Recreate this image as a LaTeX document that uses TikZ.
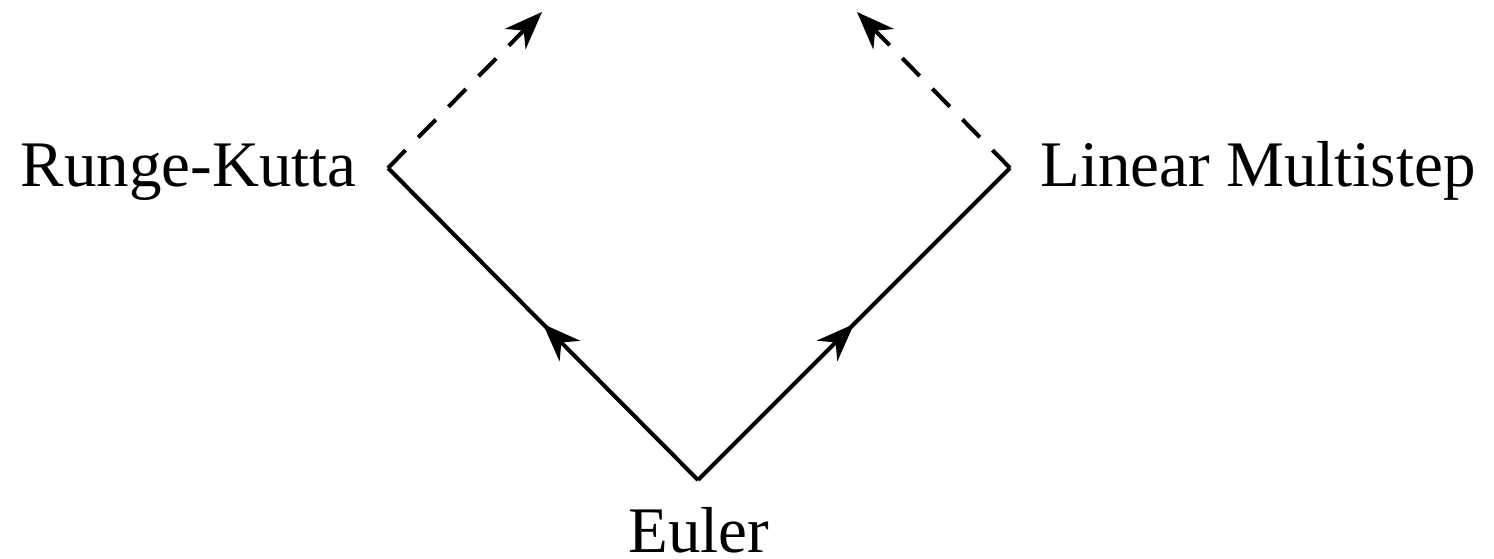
\documentclass[tikz,border=0pt]{standalone}
\usepackage{fontspec}
\setmainfont{Liberation Serif}
\usetikzlibrary{arrows.meta,decorations.markings}
\begin{document}
\begin{tikzpicture}[x=0.02cm,y=-0.02cm,
  lbl/.style={inner sep=0pt,font=\fontsize{37}{44}\selectfont},
  tip/.tip={Stealth[length=0.76cm,width=0.58cm,inset=0.24cm]},
  edge/.style={line width=2.3pt},
  midarrow/.style={postaction={decorate},decoration={markings,
    mark=at position 0.5 with {\arrow{tip}}}},
  future/.style={line width=2.3pt,dash pattern=on 0.5cm off 0.36cm,-tip}]
  \useasboundingbox (0,0) rectangle (1494,558);
  % corners of the path
  \coordinate (e) at (698,480);
  \coordinate (rk) at (388,168);
  \coordinate (lm) at (1010,168);
  \coordinate (rkend) at (542,12);
  \coordinate (lmend) at (857,12);
  % labels
  \node[lbl,anchor=base east] (rklbl) at (357,186) {Runge-Kutta};
  \node[lbl,anchor=base west] (lmlbl) at (1040,186) {Linear Multistep};
  \node[lbl,anchor=base] (elbl) at (699,552) {Euler};
  % connectors
  \draw[edge,midarrow] (e) -- (rk);
  \draw[edge,midarrow] (e) -- (lm);
  \draw[future] (rk) -- (rkend);
  \draw[future] (lm) -- (lmend);
\end{tikzpicture}
\end{document}
